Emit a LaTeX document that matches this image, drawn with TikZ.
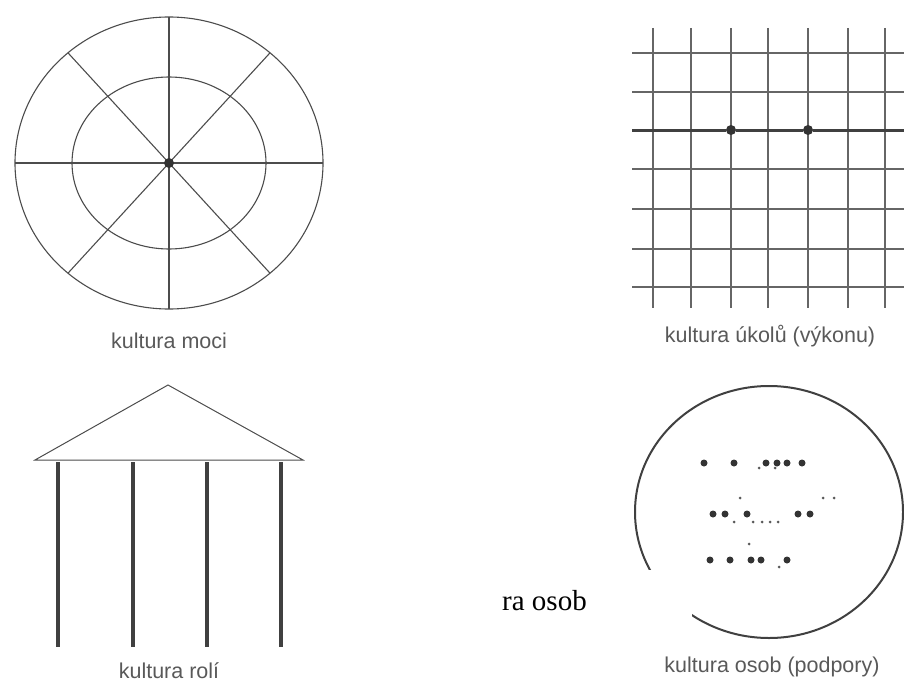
\documentclass[tikz,border=0pt]{standalone}
\usepackage{fontspec}
\setmainfont{Liberation Sans}
\newfontfamily\timesfont{Liberation Serif}
\usetikzlibrary{positioning, calc}
\tikzset{
    caption/.style = {text=black!65, font=\fontsize{21.5}{24}\selectfont, inner sep=0pt, anchor=base},
    thinline/.style = {draw=black!70, line width=1.1pt},
    gridline/.style = {draw=black!60, line width=1.6pt},
    pillar/.style = {draw=black!75, line width=3.5pt},
    blob/.style = {fill=black!80, circle, inner sep=0pt, minimum size=7pt},
    speck/.style = {fill=black!65, circle, inner sep=0pt, minimum size=3pt}
}

\begin{document}
\begin{tikzpicture}[x=1pt, y=-1pt]
\useasboundingbox (0,0) rectangle (904,682);

% kultura moci
\coordinate (power) at (169,163);
\draw[thinline] (power) ellipse [x radius=154, y radius=146];
\draw[thinline] (power) ellipse [x radius=97, y radius=86];
\foreach \a in {0,49,90,131}
    \draw[thinline] ({169+154*cos(\a)},{163-146*sin(\a)}) -- ({169-154*cos(\a)},{163+146*sin(\a)});
\node[blob, minimum size=10pt] (hub) at (power) {};
\node[caption] (mocilab) at (169,348) {kultura moci};

% kultura ukolu
\foreach \x in {653,691,731,768,808,848,885}
    \draw[gridline] (\x,28) -- (\x,308);
\foreach \y in {53,92,169,209,249,287}
    \draw[gridline] (632,\y) -- (904,\y);
\coordinate (taskstart) at (632,130);
\coordinate (taskend) at (904,130);
\node[blob, minimum size=10pt] (knotA) at (731,130) {};
\node[blob, minimum size=10pt] (knotB) at (808,130) {};
\draw[draw=black!75, line width=3pt] (taskstart) -- (knotA) -- (knotB) -- (taskend);
\node[caption] (ukollab) at (770,342) {kultura úkolů (výkonu)};

% kultura roli
\coordinate (eaveL) at (35,460);
\coordinate (ridge) at (168,385);
\coordinate (eaveR) at (303,460);
\draw[thinline, line width=1pt] (eaveL) -- (ridge) -- (eaveR) -- cycle;
\foreach \x in {58,133,207,281}
    \draw[pillar] (\x,462) -- (\x,647);
\node[caption] (rolilab) at (169,678) {kultura rolí};

% kultura osob
\draw[draw=black!75, line width=2pt] (769,512) ellipse [x radius=134, y radius=126];
\foreach \x/\y in {704/463,734/463,766/463,777/463,787/463,802/463,
                   713/514,725/514,747/514,798/514,810/514,
                   710/560,730/560,751/560,761/560,787/560}
    \node[blob] at (\x,\y) {};
\foreach \x/\y in {759/468,775/468,740/498,823/498,834/498,
                   734/522,753/522,762/522,770/522,778/522,
                   749/544,779/567}
    \node[speck] at (\x,\y) {};
\node[caption] (osoblab) at (772,672) {kultura osob (podpory)};

% prekryti
\fill[white] (490,570) rectangle (692,625);
\node[anchor=base west, inner sep=0pt, font=\timesfont\fontsize{29}{32}\selectfont] (stray) at (502,610) {ra osob};
\end{tikzpicture}
\end{document}
